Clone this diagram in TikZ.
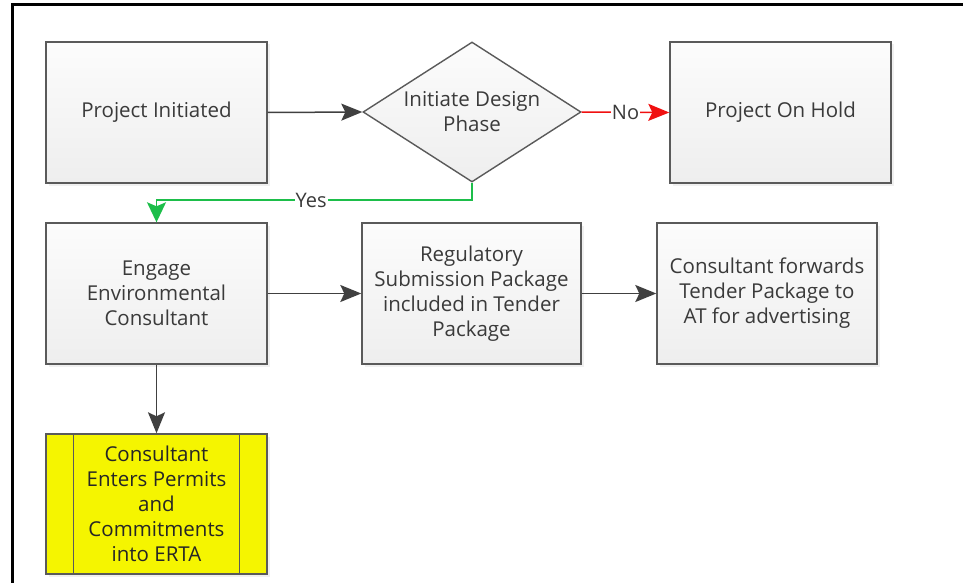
\documentclass[tikz,border=0pt]{standalone}
\usepackage{fontspec}
\setmainfont{Open Sans}
\usetikzlibrary{shapes.geometric,shapes.multipart,arrows.meta,shadows}
\definecolor{txt}{HTML}{3A3A3A}
\definecolor{edge}{HTML}{5A5A5A}
\definecolor{boxtop}{HTML}{FCFCFC}
\definecolor{boxbot}{HTML}{EEEEEE}
\definecolor{linkdark}{HTML}{404040}
\definecolor{nored}{HTML}{F01010}
\definecolor{yesgreen}{HTML}{1DBE4A}
\definecolor{hilite}{HTML}{F5F500}
\tikzset{
  boxed/.style={draw=edge, line width=1.4pt, top color=boxtop, bottom color=boxbot,
    minimum width=221pt, minimum height=141pt, inner sep=0pt,
    align=center, text=txt, font=\fontsize{20.5}{25}\selectfont,
    drop shadow={shadow xshift=2.5pt, shadow yshift=-2.5pt, opacity=0.12}},
  decision/.style={diamond, draw=edge, line width=1.4pt, top color=boxtop, bottom color=boxbot,
    minimum width=218pt, minimum height=140pt, inner sep=0pt},
  flowlink/.style={draw=linkdark, line width=1.5pt,
    -{Stealth[length=21pt, width=17pt, inset=4pt]}},
  edgelabel/.style={fill=white, inner sep=1pt, text=txt, font=\fontsize{20}{22}\selectfont}
}
\begin{document}
\begin{tikzpicture}[x=1pt, y=-1pt]
  \useasboundingbox (0,0) rectangle (963,583);
  % outer frame (top and left edges)
  \draw[line width=3pt, black] (12.5,583) -- (12.5,4.5) -- (963,4.5);

  % process boxes
  \node[boxed] (init) at (156.5,112.5) {Project Initiated};
  \node[decision] (dec) at (472,112) {};
  \node[align=center, text=txt, font=\fontsize{20.5}{25}\selectfont] (decText) at (472,112) {Initiate Design\\Phase};
  \node[boxed] (hold) at (780.5,112.5) {Project On Hold};
  \node[boxed] (engage) at (156.5,293.5) {Engage\\Environmental\\Consultant};
  \node[boxed, minimum width=219pt] (reg) at (471.5,293.5) {Regulatory\\Submission Package\\included in Tender\\Package};
  \node[boxed, minimum width=220pt] (fwd) at (767,293.5) {Consultant forwards\\Tender Package to\\AT for advertising};

  % predefined-process box
  \node[boxed, minimum height=140pt, top color=hilite, bottom color=hilite, text=black!85] (erta) at (156.5,504)
    {Consultant\\Enters Permits\\and\\Commitments\\into ERTA};
  \draw[edge, line width=1.4pt] ([xshift=28pt]erta.north west) -- ([xshift=28pt]erta.south west);
  \draw[edge, line width=1.4pt] ([xshift=-28pt]erta.north east) -- ([xshift=-28pt]erta.south east);

  % connectors
  \draw[flowlink] (init.east) -- (dec.west);
  \draw[flowlink, draw=nored, -{Stealth[length=21pt, width=17pt, inset=4pt, fill=nored]}] (dec.east) -- node[edgelabel, pos=0.5]{No} (hold.west);
  \coordinate (yesTurn) at (472,200);
  \draw[flowlink, draw=yesgreen, -{Stealth[length=20pt, width=19pt, inset=4pt, fill=yesgreen]}]
    (dec.south) -- (yesTurn) -- node[edgelabel, pos=0.51]{Yes} (156.5,200) -- (engage.north);
  \draw[flowlink] (engage.east) -- (reg.west);
  \draw[flowlink] (reg.east) -- (fwd.west);
  \draw[flowlink] (engage.south) -- (erta.north);
\end{tikzpicture}
\end{document}
